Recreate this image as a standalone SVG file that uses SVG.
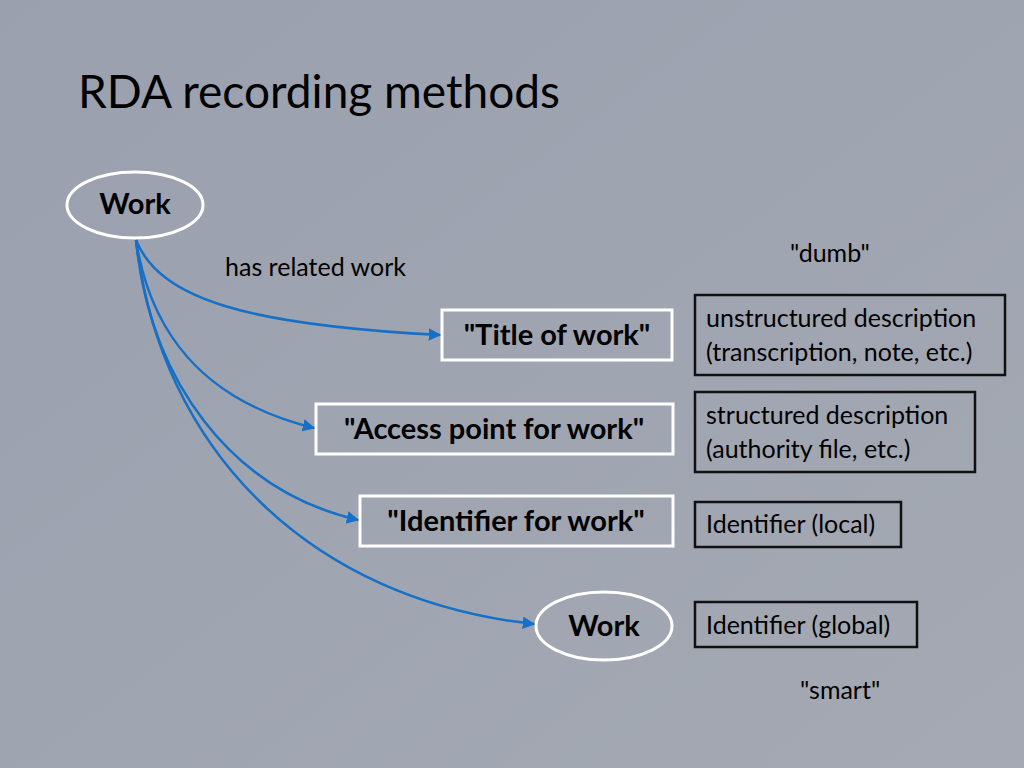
<svg xmlns="http://www.w3.org/2000/svg" width="1024" height="768" viewBox="0 0 1024 768">
<style>
text{font-family:Lato,"Open Sans","Liberation Sans",sans-serif;fill:#000}
.w{fill:none;stroke:#fff;stroke-width:3}
.d{fill:none;stroke:#111;stroke-width:2.5}
.b{font-weight:bold;font-size:29px}
.s{font-size:25px}
.c{fill:none;stroke:#1670c8;stroke-width:2.5;marker-end:url(#a)}
</style>
<defs>
<marker id="a" viewBox="0 0 10 10" refX="9" refY="5" markerWidth="5" markerHeight="5" orient="auto"><path d="M0 0L10 5L0 10z" fill="#1670c8"/></marker>
<linearGradient id="bg" x1="0" y1="0" x2="1" y2="1"><stop offset="0" stop-color="#9aa0ae"/><stop offset="1" stop-color="#a4a9b3"/></linearGradient>
</defs>
<rect width="1024" height="768" fill="url(#bg)"/>
<text x="78" y="108" font-size="46">RDA recording methods</text>
<g id="work1"><ellipse cx="135" cy="205" rx="68" ry="33" fill="#a0a6b4" class="w"/><text x="135" y="214" class="b" text-anchor="middle">Work</text></g>
<text x="225" y="276" class="s">has related work</text>
<text x="790" y="262" class="s">"dumb"</text>
<text x="800" y="699" class="s">"smart"</text>
<g id="title"><rect x="442" y="310" width="230" height="50" class="w"/><text x="557" y="345" class="b" text-anchor="middle">"Title of work"</text></g>
<g id="access"><rect x="316" y="404" width="357" height="50" class="w"/><text x="494" y="439" class="b" text-anchor="middle">"Access point for work"</text></g>
<g id="ident"><rect x="360" y="496" width="313" height="50" class="w"/><text x="516" y="531" class="b" text-anchor="middle">"Identifier for work"</text></g>
<g id="work2"><ellipse cx="604" cy="626" rx="68" ry="34" fill="#a0a6b4" class="w"/><text x="604" y="636" class="b" text-anchor="middle">Work</text></g>
<g id="r1"><rect x="695" y="295" width="310" height="80" class="d"/><text x="706" y="327" class="s">unstructured description</text><text x="706" y="361" class="s">(transcription, note, etc.)</text></g>
<g id="r2"><rect x="695" y="392" width="280" height="80" class="d"/><text x="706" y="424" class="s">structured description</text><text x="706" y="458" class="s">(authority file, etc.)</text></g>
<g id="r3"><rect x="695" y="502" width="206" height="45" class="d"/><text x="706" y="533" class="s">Identifier (local)</text></g>
<g id="r4"><rect x="695" y="602" width="222" height="45" class="d"/><text x="706" y="634" class="s">Identifier (global)</text></g>
<g id="connectors">
<path class="c" d="M136 240C160 300 250 325 440 335"/>
<path class="c" d="M136 240C150 330 200 400 314 428"/>
<path class="c" d="M136 240C150 380 230 490 358 520"/>
<path class="c" d="M136 240C160 450 310 600 534 624"/>
</g>
</svg>
